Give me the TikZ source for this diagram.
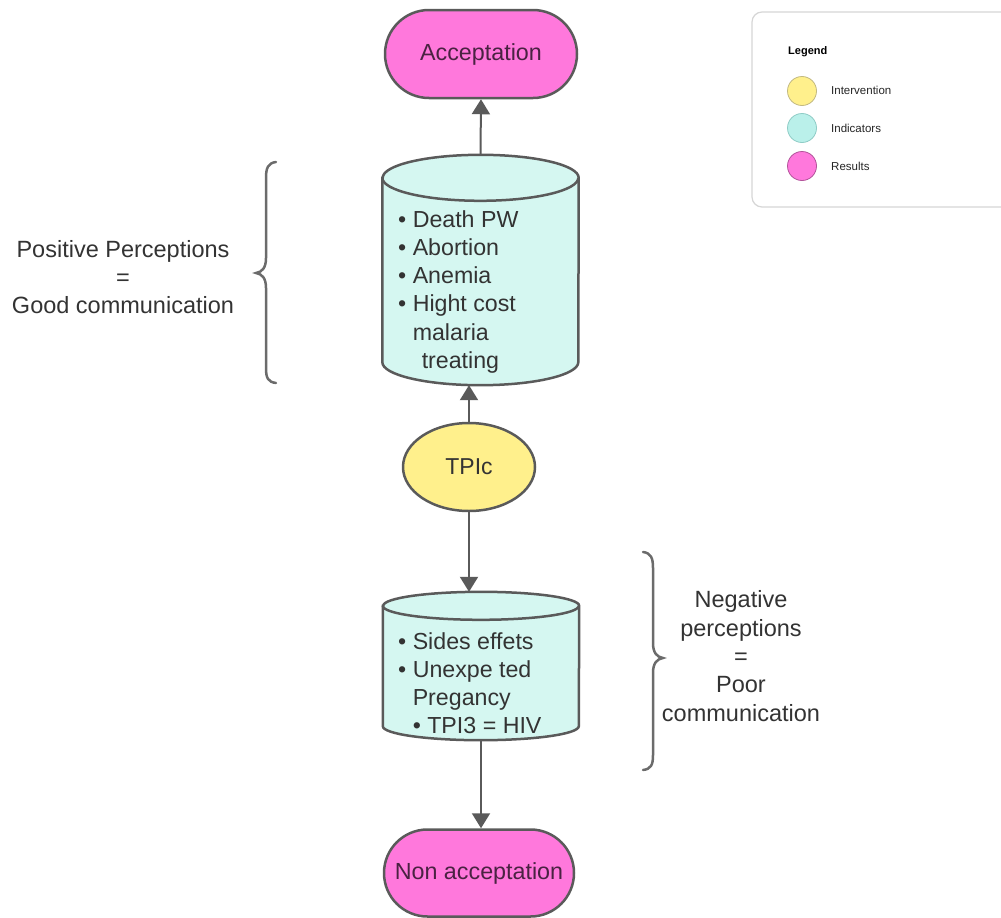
\documentclass[tikz,border=0pt]{standalone}
\usepackage{fontspec}
\setmainfont{Liberation Sans}
\usetikzlibrary{shapes.geometric,shapes.misc,arrows.meta}
\definecolor{pinkfill}{HTML}{FF78DC}
\definecolor{cyanfill}{HTML}{D5F7F1}
\definecolor{legcyan}{HTML}{BAF0EA}
\definecolor{legcyanline}{HTML}{8FCCC6}
\definecolor{yellowfill}{HTML}{FFF08C}
\definecolor{bordergrey}{HTML}{5A5A5A}
\definecolor{textgrey}{HTML}{333333}
\definecolor{pilltext}{HTML}{4A2242}
\definecolor{legendline}{HTML}{D6D6D6}
\tikzset{
  pill/.style={rounded rectangle, draw=bordergrey, line width=2.5pt, fill=pinkfill,
    minimum width=192pt, minimum height=88pt, inner sep=0pt, text=pilltext,
    font=\fontsize{23.3}{28}\selectfont},
  oval/.style={ellipse, draw=bordergrey, line width=2.5pt, fill=yellowfill,
    minimum width=132pt, minimum height=88pt, inner sep=0pt, text=textgrey,
    font=\fontsize{23}{28}\selectfont},
  cylbox/.style={rectangle, inner sep=0pt, minimum width=196pt},
  cylbody/.style={draw=bordergrey, line width=2.5pt, fill=cyanfill},
  cyltext/.style={align=left, anchor=north west, inner sep=0pt, text=textgrey,
    font=\fontsize{23.2}{28.3}\selectfont},
  sidetext/.style={align=center, inner sep=0pt, text=textgrey,
    font=\fontsize{23.5}{28.3}\selectfont},
  arr/.style={draw=bordergrey, line width=2pt, -{Triangle[width=18pt,length=15pt]}},
  bracestyle/.style={draw=bordergrey!90, line width=2.5pt, line cap=round},
  legcircle/.style={circle, minimum size=29pt, inner sep=0pt, line width=0.8pt},
  legtext/.style={anchor=west, inner sep=0pt, text=black!85, font=\fontsize{11.5}{13}\selectfont},
}
\begin{document}
\begin{tikzpicture}[x=1pt, y=-1pt]
\useasboundingbox (0,0) rectangle (1001,918);

% Results
\node[pill] (acc) at (481,54) {Acceptation};
\node[pill, minimum width=190pt, minimum height=87pt] (non) at (479,873) {Non acceptation};

% Intervention
\node[oval] (tpi) at (469,467) {TPIc};

% Top cylinder
\node[cylbox, minimum height=230pt] (cyl1) at (480.5,270) {};
\path[cylbody] ([yshift=-23pt]cyl1.north west) -- ([yshift=23pt]cyl1.south west)
  arc[start angle=180, end angle=360, x radius=98pt, y radius=23pt]
  -- ([yshift=-23pt]cyl1.north east)
  arc[start angle=0, end angle=180, x radius=98pt, y radius=23pt] -- cycle;
\draw[draw=bordergrey, line width=2.5pt] ([yshift=-23pt]cyl1.north west)
  arc[start angle=180, end angle=360, x radius=98pt, y radius=23pt];
\node[cyltext] (txt1) at (398,210) {%
  • Death PW\\
  • Abortion\\
  • Anemia\\
  • Hight cost\\
  \phantom{• }malaria\\
  \phantom{• }\hspace{9pt}treating};

% Bottom cylinder
\node[cylbox, minimum height=148pt] (cyl2) at (481,666) {};
\path[cylbody] ([yshift=-14pt]cyl2.north west) -- ([yshift=14pt]cyl2.south west)
  arc[start angle=180, end angle=360, x radius=98pt, y radius=14pt]
  -- ([yshift=-14pt]cyl2.north east)
  arc[start angle=0, end angle=180, x radius=98pt, y radius=14pt] -- cycle;
\draw[draw=bordergrey, line width=2.5pt] ([yshift=-14pt]cyl2.north west)
  arc[start angle=180, end angle=360, x radius=98pt, y radius=14pt];
\node[cyltext] (txt2) at (398,632) {%
  • Sides effets\\
  • Unexpe ted\\
  \phantom{• }Pregancy\\
  \phantom{• }• TPI3 = HIV};

% Connectors
\draw[arr] (cyl1.north) -- (acc.south);
\draw[arr] (tpi.north) -- (tpi.north |- cyl1.south);
\draw[arr] (tpi.south) -- (tpi.south |- cyl2.north);
\draw[arr] (cyl2.south) -- (cyl2.south |- non.north);

% Braces
\draw[bracestyle] (276,162) .. controls (268,163) and (266,168) .. (266,178) -- (266,258)
  .. controls (266,268) and (262,272) .. (256,273)
  .. controls (262,274) and (266,278) .. (266,288) -- (266,368)
  .. controls (266,378) and (268,382) .. (276,383);
\draw[bracestyle] (643,552) .. controls (651,553) and (653,558) .. (653,568) -- (653,643)
  .. controls (653,653) and (657,657) .. (663,658)
  .. controls (657,659) and (653,663) .. (653,673) -- (653,755)
  .. controls (653,765) and (651,769) .. (643,770);

% Side texts
\node[sidetext] (pos) at (123,277) {Positive Perceptions\\=\\Good communication};
\node[sidetext] (neg) at (741,656) {Negative\\perceptions\\=\\Poor\\communication};

% Legend
\draw[legendline, line width=1.2pt, rounded corners=10pt, fill=white] (752,12) rectangle (1030,207);
\node[anchor=west, inner sep=0pt, font=\bfseries\fontsize{11}{13}\selectfont] (legtitle) at (788,52) {Legend};
\node[legcircle, fill=yellowfill, draw=yellowfill!70!black!80] (c1) at (802,91) {};
\node[legcircle, fill=legcyan, draw=legcyanline] (c2) at (802,128) {};
\node[legcircle, fill=pinkfill, draw=pinkfill!70!black] (c3) at (802,166) {};
\node[legtext] (l1) at (831,90) {Intervention};
\node[legtext] (l2) at (831,128) {Indicators};
\node[legtext] (l3) at (831,166) {Results};
\end{tikzpicture}
\end{document}
